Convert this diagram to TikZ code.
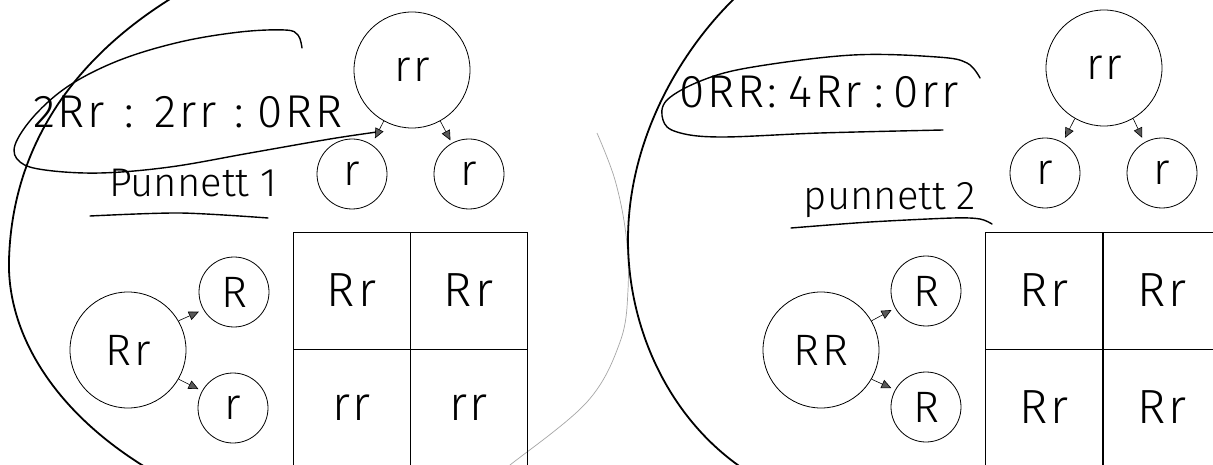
\documentclass[tikz,border=0pt]{standalone}
\usepackage{fontspec}
\setmainfont{Fira Sans}[UprightFont=* Light]
\newfontfamily\handfont{Fira Sans}[UprightFont=* Light, LetterSpace=6]
\usetikzlibrary{arrows.meta}
\begin{document}
\begin{tikzpicture}[x=1pt,y=-1pt,
  hand/.style={font=\fontsize{40}{48}\selectfont, inner sep=0pt},
  ratio/.style={font=\handfont\fontsize{46}{50}\selectfont, inner sep=0pt},
  bigc/.style={circle, draw, line width=0.8pt, minimum size=116pt, inner sep=0pt, font=\handfont\fontsize{44}{48}\selectfont},
  smallc/.style={circle, draw, line width=0.8pt, minimum size=70pt, inner sep=0pt, font=\fontsize{44}{48}\selectfont},
  cell/.style={rectangle, draw, line width=0.8pt, minimum width=117pt, minimum height=117pt, inner sep=0pt, font=\handfont\fontsize{48}{50}\selectfont},
  arr/.style={-{Triangle[length=10pt,width=9pt,fill=black!65]}, line width=0.6pt},
  pen/.style={line width=1.4pt, line cap=round},
  bigpen/.style={line width=1.8pt, line cap=round},
  faint/.style={line width=0.7pt, draw=black!35},
]
\useasboundingbox (0,0) rectangle (1213,465);
\clip (0,0) rectangle (1213,465);
\fill[white] (0,0) rectangle (1213,465);

% ---------- left panel ----------
\draw[bigpen] (175,-4) .. controls (70,60) and (12,150) .. (9,260) .. controls (7,330) and (50,410) .. (150,470);
\draw[faint] plot[smooth, tension=0.6] coordinates {(597,133) (615,180) (626,235) (628,290) (620,342) (587,402) (510,465) (500,472)};

\node[ratio, anchor=base] (Lratio) at (188,128) {2Rr\hspace{20pt}:\hspace{20pt}2rr\hspace{18pt}:\hspace{14pt}0RR};
\draw[pen] plot[smooth, tension=0.6] coordinates {(302,48) (298,35) (285,30) (240,32) (180,42) (120,60) (70,85) (35,115) (15,145) (20,162) (45,170) (100,173) (170,167) (250,153) (330,139) (377,132)};

\node[hand, anchor=base] (Ltitle) at (193,197) {Punnett 1};
\draw[pen] plot[smooth] coordinates {(90,216) (180,213) (268,218)};

\node[bigc] (Lrr) at (412,70) {rr};
\node[smallc] (Lr1) at (352,174) {r};
\node[smallc] (Lr2) at (469,174) {r};
\draw[arr, shorten >=7pt] (Lrr.241) -- (Lr1.56);
\draw[arr, shorten >=3pt] (Lrr.299) -- (Lr2.119);

\node[bigc] (LRr) at (128,350) {Rr};
\node[smallc] (LR) at (234,292) {R};
\node[smallc] (Lr) at (233,408) {r};
\draw[arr, shorten >=5pt] (LRr.30) -- (LR.210);
\draw[arr, shorten >=4pt] (LRr.330) -- (Lr.151);

\node[cell] (L11) at (351.5,290.5) {Rr};
\node[cell] (L12) at (468.5,290.5) {Rr};
\node[cell] (L21) at (351.5,407.5) {rr};
\node[cell] (L22) at (468.5,407.5) {rr};

% ---------- right panel ----------
\draw[bigpen] (738,-5) .. controls (680,50) and (628,140) .. (628,240) .. controls (628,330) and (670,420) .. (745,470);

\node[ratio, anchor=base] (Rratio) at (819,108) {0RR:\hspace{12pt}4Rr\hspace{12pt}:\hspace{10pt}0rr};
\draw[pen] plot[smooth, tension=0.6] coordinates {(980,78) (967,63) (937,57) (853,55) (753,67) (703,80) (667,100) (663,120) (677,132) (720,137) (820,133) (943,130)};

\node[hand, anchor=base] (Rtitle) at (890,210) {punnett 2};
\draw[pen] plot[smooth] coordinates {(791,228) (870,222) (953,218) (980,219) (992,224)};

\node[bigc] (Rrr) at (1104,68) {rr};
\node[smallc] (Rr1) at (1045,173) {r};
\node[smallc] (Rr2) at (1162,173) {r};
\draw[arr, shorten >=5pt] (Rrr.240) -- (Rr1.60);
\draw[arr, shorten >=5pt] (Rrr.300) -- (Rr2.120);

\node[bigc] (RRR) at (821,350) {RR};
\node[smallc] (RR1) at (926,291) {R};
\node[smallc] (RR2) at (926,407) {R};
\draw[arr, shorten >=4pt] (RRR.30) -- (RR1.209);
\draw[arr, shorten >=4pt] (RRR.330) -- (RR2.151);

\node[cell] (R11) at (1044,290.5) {Rr};
\node[cell] (R12) at (1162,290.5) {Rr};
\node[cell] (R21) at (1044,407.5) {Rr};
\node[cell] (R22) at (1162,407.5) {Rr};
\end{tikzpicture}
\end{document}
